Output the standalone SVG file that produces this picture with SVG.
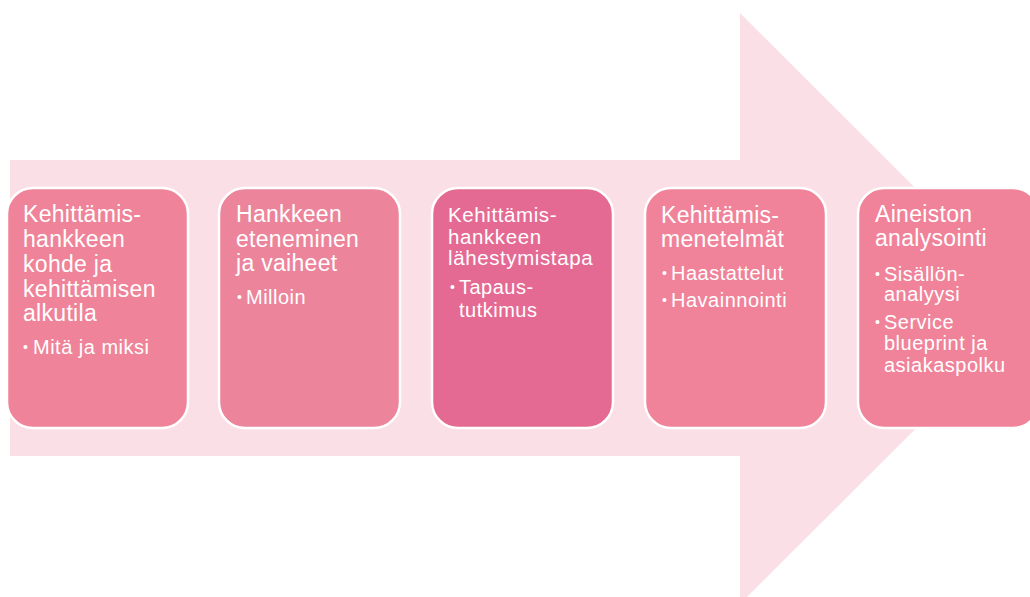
<svg xmlns="http://www.w3.org/2000/svg" width="1030" height="597" viewBox="0 0 1030 597">
  <style>
    .box { stroke: #ffffff; stroke-width: 2.5; }
    .b1 { fill: #ef8399; }
    .b2 { fill: #ec849b; }
    .b3 { fill: #e56a93; }
    .b4 { fill: #f0839a; }
    .b5 { fill: #f0839a; }
    text { fill: #ffffff; font-family: "Liberation Sans", Arial, sans-serif; }
    .t { font-size: 23px; letter-spacing: 0.3px; }
    .ts { font-size: 20.5px; letter-spacing: 0.6px; }
    .s { font-size: 20px; letter-spacing: 0.5px; }
    .dot { font-size: 14px; }
  </style>

  <!-- background process arrow -->
  <path id="arrow" d="M10,160 L740,160 L740,13 L1036,308.5 L740,604 L740,456 L10,456 Z" fill="#fbdfe6"/>

  <g id="node1">
    <rect class="box b1" x="7" y="188" width="181" height="240" rx="26"/>
    <text class="t" x="23" y="222">Kehittämis-</text>
    <text class="t" x="23" y="247">hankkeen</text>
    <text class="t" x="23" y="271.5">kohde ja</text>
    <text class="t" x="23" y="296.5">kehittämisen</text>
    <text class="t" x="23" y="320.5">alkutila</text>
    <text class="dot" x="23" y="352">•</text>
    <text class="s" x="33" y="354">Mitä ja miksi</text>
  </g>

  <g id="node2">
    <rect class="box b2" x="219" y="188" width="181" height="240" rx="26"/>
    <text class="t" x="236" y="222">Hankkeen</text>
    <text class="t" x="236" y="246.5">eteneminen</text>
    <text class="t" x="236" y="271">ja vaiheet</text>
    <text class="dot" x="237" y="301.5">•</text>
    <text class="s" x="246" y="303.5">Milloin</text>
  </g>

  <g id="node3">
    <rect class="box b3" x="432" y="188" width="181" height="240" rx="26"/>
    <text class="ts" x="448" y="222">Kehittämis-</text>
    <text class="ts" x="448" y="243.5">hankkeen</text>
    <text class="ts" x="448" y="264.5">lähestymistapa</text>
    <text class="dot" x="450" y="292">•</text>
    <text class="s" x="459" y="294">Tapaus-</text>
    <text class="s" x="459" y="316.5">tutkimus</text>
  </g>

  <g id="node4">
    <rect class="box b4" x="645" y="188" width="181" height="240" rx="26"/>
    <text class="t" x="661" y="223">Kehittämis-</text>
    <text class="t" x="661" y="247">menetelmät</text>
    <text class="dot" x="662" y="277.5">•</text>
    <text class="s" x="671" y="279.5">Haastattelut</text>
    <text class="dot" x="662" y="305">•</text>
    <text class="s" x="671" y="307">Havainnointi</text>
  </g>

  <g id="node5">
    <rect class="box b5" x="858" y="188" width="181" height="240" rx="26"/>
    <text class="t" x="875" y="222">Aineiston</text>
    <text class="t" x="875" y="246">analysointi</text>
    <text class="dot" x="875" y="279">•</text>
    <text class="s" x="884" y="281">Sisällön-</text>
    <text class="s" x="884" y="301">analyysi</text>
    <text class="dot" x="875" y="327">•</text>
    <text class="s" x="884" y="329">Service</text>
    <text class="s" x="884" y="350">blueprint ja</text>
    <text class="s" x="884" y="372">asiakaspolku</text>
  </g>

  <!-- no connectors: the arrow carries the sequence -->
  <g id="connectors"></g>
</svg>
